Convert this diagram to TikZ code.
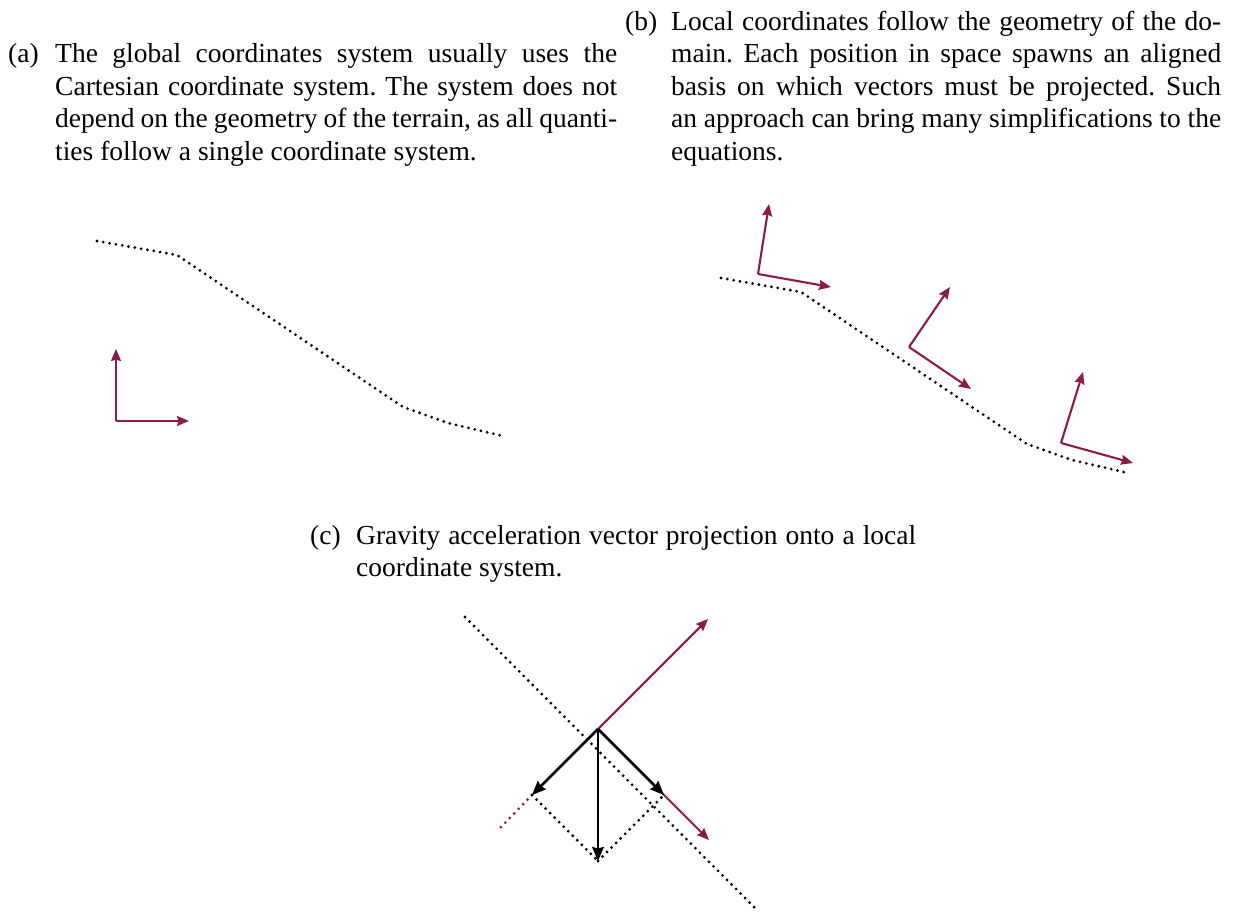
\documentclass[tikz,border=0pt]{standalone}
\usepackage{fontspec}
\setmainfont{Liberation Serif}
\usetikzlibrary{arrows.meta}
\definecolor{myred}{RGB}{140,27,74}
\begin{document}
\frenchspacing
\begin{tikzpicture}[x=1pt,y=-1pt,
  capline/.style={anchor=base west,inner sep=0pt,font=\fontsize{27.5}{32.6}\selectfont\frenchspacing},
  redarr/.style={draw=myred,line width=2.1pt,-{Stealth[length=12pt,width=10pt,inset=1.5pt]}},
  blkarr/.style={draw=black,line width=2.6pt,-{Stealth[length=14pt,width=11.5pt,inset=1.5pt]}},
  dotline/.style={line width=3.1pt,dash pattern=on 0pt off 6.4pt,line cap=round},
]
\useasboundingbox (0,0) rectangle (1237,913);

% ---------- captions ----------
\node[capline] (la) at (8,62.6) {(a)};
\node[capline] (a1) at (55,62.6) {\makebox[562pt][s]{The global coordinates system usually uses the}};
\node[capline] (a2) at (55,95.2) {\makebox[562pt][s]{Cartesian coordinate system. The system does not}};
\node[capline] (a3) at (55,127.8) {\makebox[562pt][s]{depend on the geometry of the terrain, as all quanti-}};
\node[capline] (a4) at (55,160.4) {ties follow a single coordinate system.};

\node[capline] (lb) at (625,30) {(b)};
\node[capline] (b1) at (671,30) {\makebox[550pt][s]{Local coordinates follow the geometry of the do-}};
\node[capline] (b2) at (671,62.6) {\makebox[550pt][s]{main. Each position in space spawns an aligned}};
\node[capline] (b3) at (671,95.2) {\makebox[550pt][s]{basis on which vectors must be projected. Such}};
\node[capline] (b4) at (671,127.8) {\makebox[550pt][s]{an approach can bring many simplifications to the}};
\node[capline] (b5) at (671,160.4) {equations.};

\node[capline] (lc) at (310,544) {(c)};
\node[capline] (c1) at (356,544) {\makebox[560pt][s]{Gravity acceleration vector projection onto a local}};
\node[capline] (c2) at (356,576.6) {coordinate system.};

% ---------- (a) ----------
\draw[dotline] (97,241) -- (177,255) -- (403,407) -- (448,423) -- (503,436);
\coordinate (ao) at (116,421);
\coordinate (au) at (116,349);
\coordinate (ar) at (189,421);
\draw[redarr] (ao) -- (au);
\draw[redarr] (ao) -- (ar);

% ---------- (b) ----------
\draw[dotline] (721,278) -- (801,292) -- (1027,444) -- (1072,460) -- (1128,473);
\coordinate (o1) at (758,274); \coordinate (u1) at (769,204); \coordinate (r1) at (831,287);
\coordinate (o2) at (909,347); \coordinate (u2) at (950,287); \coordinate (r2) at (971,389);
\coordinate (o3) at (1061,443); \coordinate (u3) at (1083,372); \coordinate (r3) at (1133,463);
\foreach \i in {1,2,3}{
  \draw[redarr] (o\i) -- (u\i);
  \draw[redarr] (o\i) -- (r\i);
}

% ---------- (c) ----------
\coordinate (s1) at (465,617);
\coordinate (s2) at (758,911);
\coordinate (O) at (598,729);
\coordinate (nU) at (708,619);
\coordinate (tR) at (709,840);
\coordinate (pR) at (664,795);
\coordinate (pL) at (532,795);
\coordinate (G) at (598,861);
\coordinate (nE) at (499,829);
\draw[dotline] (s1) -- (s2);
\draw[redarr] (O) -- (nU);
\draw[redarr] (O) -- (tR);
\draw[dotline,myred] (pL) -- (nE);
\draw[dotline] (pL) -- (G);
\draw[dotline] (G) -- (pR);
\draw[blkarr] (O) -- (pL);
\draw[blkarr] (O) -- (pR);
\draw[blkarr] (O) -- (G);
\end{tikzpicture}
\end{document}
